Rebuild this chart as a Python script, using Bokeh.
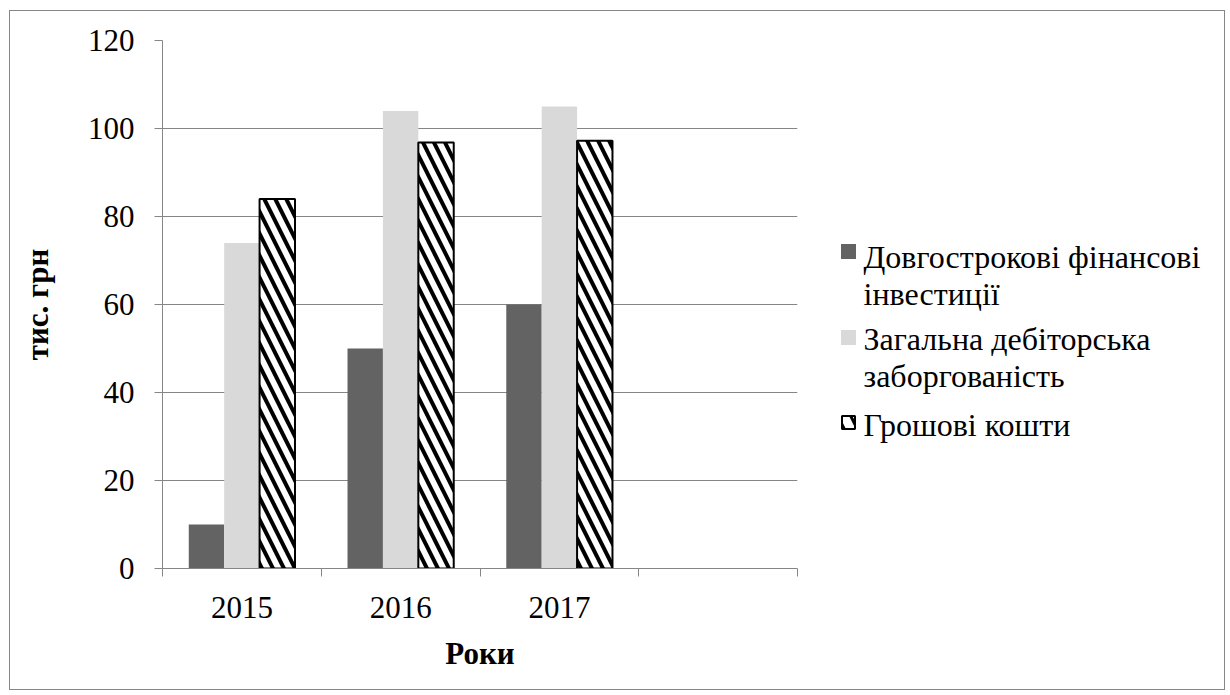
from bokeh.plotting import figure
from bokeh.models import Range1d, FixedTicker
from bokeh.layouts import row
from bokeh.embed import file_html
from bokeh.resources import INLINE

years = ["2015", "2016", "2017"]
long_term_inv = [10, 50, 60]
receivables = [74, 104, 105]
cash = [84, 96.8, 97.2]
series_names = ["Довгострокові фінансові\nінвестиції",
                "Загальна дебіторська\nзаборгованість",
                "Грошові кошти"]
y_ticks = [0, 20, 40, 60, 80, 100, 120]

FONT = "Liberation Serif"
GRAY = "#868686"
FS = "31px"
DARK = "#636363"
LIGHT = "#d9d9d9"

P_W, P_H = 800, 678
L_W = 414
B_TOP, B_BOT = 29, 121

p = figure(width=P_W, height=P_H, output_backend="svg", toolbar_location=None,
           x_range=Range1d(0, 4), y_range=Range1d(0, 120),
           min_border_left=152, min_border_right=13, min_border_top=B_TOP,
           min_border_bottom=B_BOT)
p.outline_line_color = None
p.background_fill_color = "white"
p.border_fill_color = "white"

centers = [i + 0.5 for i in range(len(years))]
bw = 0.223
x1 = [c - bw for c in centers]
x3 = [c + bw for c in centers]

p.vbar(x=x1, top=long_term_inv, width=bw, fill_color=DARK, line_color=None)
p.vbar(x=centers, top=receivables, width=bw, fill_color=LIGHT, line_color=None)
p.vbar(x=x3, top=cash, width=bw, fill_color="white", line_color="black", line_width=2,
       hatch_pattern="\\", hatch_color="black", hatch_scale=22, hatch_weight=4)

# y axis
p.yaxis.ticker = FixedTicker(ticks=y_ticks)
p.yaxis.axis_line_color = GRAY
p.yaxis.major_tick_line_color = GRAY
p.yaxis.major_tick_out = 8
p.yaxis.major_tick_in = 0
p.yaxis.minor_tick_line_color = None
p.yaxis.major_label_text_font = FONT
p.yaxis.major_label_text_font_size = FS
p.yaxis.major_label_text_color = "black"
p.yaxis.major_label_standoff = 20
p.yaxis.axis_label = "тис. грн"
p.yaxis.axis_label_text_font = FONT
p.yaxis.axis_label_text_font_size = FS
p.yaxis.axis_label_text_font_style = "bold"
p.yaxis.axis_label_text_color = "black"
p.yaxis.axis_label_standoff = 30

# x axis
p.xaxis.ticker = FixedTicker(ticks=centers, minor_ticks=[0, 1, 2, 3, 4])
p.xaxis.major_label_overrides = {c: y for c, y in zip(centers, years)}
p.xaxis.axis_line_color = GRAY
p.xaxis.major_tick_line_color = None
p.xaxis.minor_tick_line_color = GRAY
p.xaxis.minor_tick_out = 8
p.xaxis.minor_tick_in = 0
p.xaxis.major_label_text_font = FONT
p.xaxis.major_label_text_font_size = FS
p.xaxis.major_label_text_color = "black"
p.xaxis.major_label_standoff = 20
p.xaxis.axis_label = "Роки"
p.xaxis.axis_label_text_font = FONT
p.xaxis.axis_label_text_font_size = FS
p.xaxis.axis_label_text_font_style = "bold"
p.xaxis.axis_label_text_color = "black"
p.xaxis.axis_label_standoff = 15

p.xgrid.grid_line_color = None
p.ygrid.ticker = FixedTicker(ticks=y_ticks)
p.ygrid.grid_line_color = GRAY
p.ygrid.grid_line_width = 1

# legend panel, in page pixel coordinates (frame aligned with main plot frame)
X0, Y0 = 810, 11
leg = figure(width=L_W, height=P_H, output_backend="svg", toolbar_location=None,
             x_range=Range1d(X0, X0 + L_W),
             y_range=Range1d(Y0 + P_H - B_BOT, Y0 + B_TOP),
             min_border_left=0, min_border_right=0, min_border_top=B_TOP,
             min_border_bottom=B_BOT, x_axis_type=None, y_axis_type=None)
leg.outline_line_color = None
leg.grid.visible = False
leg.background_fill_color = "white"
leg.border_fill_color = "white"

sq_x = 848
sq_y = [251, 337, 422]
sq = 15
leg.rect(x=[sq_x, sq_x], y=sq_y[:2], width=sq, height=sq,
         fill_color=[DARK, LIGHT], line_color=None)
leg.rect(x=[sq_x], y=[sq_y[2]], width=sq - 2, height=sq - 2, fill_color="white",
         line_color="black", line_width=2, hatch_pattern="\\", hatch_color="black",
         hatch_scale=26, hatch_weight=3)

first_baselines = [256, 338, 424]
line_step = 37
tx, ty, tt = [], [], []
for name, b in zip(series_names, first_baselines):
    for k, line in enumerate(name.split("\n")):
        tx.append(863)
        ty.append(b + k * line_step)
        tt.append(line)
leg.text(x=tx, y=ty, text=tt, text_font="Liberation Serif", text_font_size="32px",
         text_color="black", text_baseline="alphabetic", text_align="left")

layout = row(p, leg, spacing=0,
             styles={"border": "1px solid #868686", "margin-left": "9px", "margin-top": "10px"})

open("out.html", "w").write(file_html(layout, INLINE))
